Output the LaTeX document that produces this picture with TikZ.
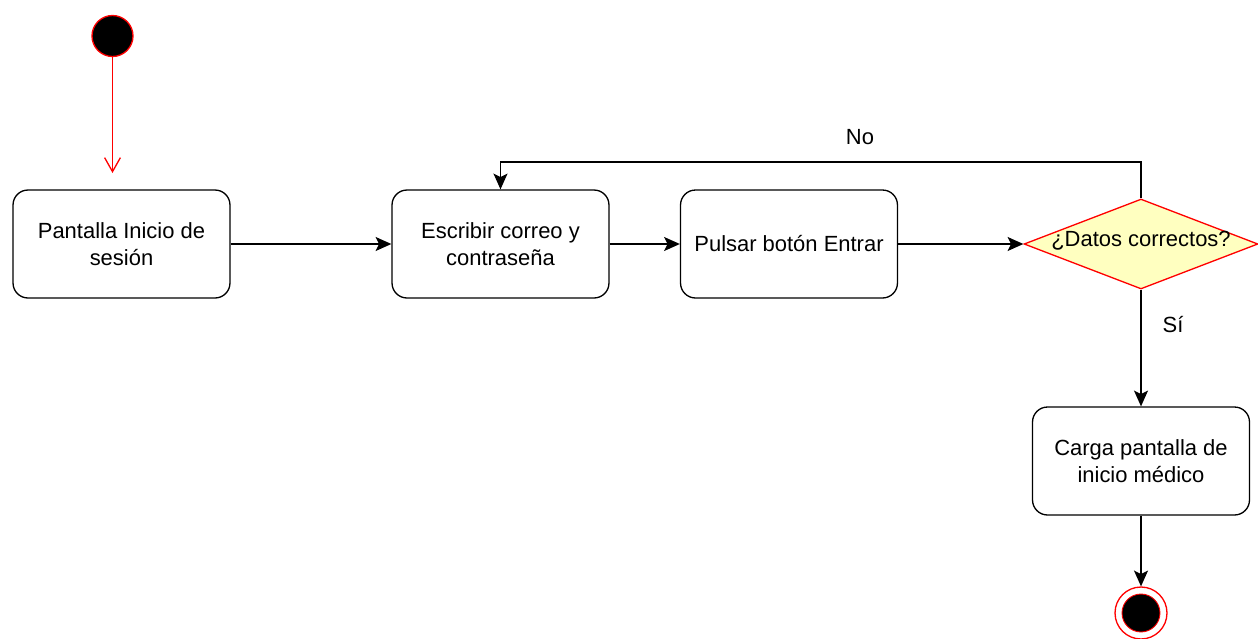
\documentclass[tikz,border=0pt]{standalone}
\usepackage{fontspec}
\setmainfont{Liberation Sans}
\usepackage{tikz}
\usepackage{xcolor}
\usetikzlibrary{arrows.meta, positioning, shapes.geometric}
\definecolor{decfill}{RGB}{255,255,192}

\begin{document}
\begin{tikzpicture}[
    x=0.02cm, y=-0.02cm,
    act/.style={rectangle, draw, rounded corners=0.3cm, line width=0.75pt,
                minimum width=4.34cm, minimum height=2.16cm, align=center,
                font=\fontsize{12.5}{15.3}\selectfont},
    dec/.style={diamond, draw=red, fill=decfill, line width=0.75pt,
                inner sep=0pt, minimum width=4.68cm, minimum height=1.8cm},
    lbl/.style={font=\fontsize{12.5}{15.3}\selectfont},
    arr/.style={-{Stealth[length=9pt, width=8pt, inset=2pt]}, line width=0.75pt},
    startarr/.style={-{Straight Barb[length=8pt, width=9pt]}, line width=0.75pt, red}
]
\useasboundingbox (0,0) rectangle (1258,639);
% inicio
\node[circle, draw=red, fill=black, line width=0.75pt, inner sep=0pt,
      minimum size=0.82cm] (start) at (112.5,36) {};
\coordinate (startEnd) at (112.5,173);
\draw[startarr] (start) -- (startEnd);
% actividades
\node[act] (login) at (121.5,244) {Pantalla Inicio de\\sesión};
\node[act] (write) at (500.5,244) {Escribir correo y\\contraseña};
\node[act] (press) at (789,244) {Pulsar botón Entrar};
\node[dec] (check) at (1141,244) {};
\node[lbl] (checkText) at (1141,241) {¿Datos correctos?};
\node[act] (load) at (1141,461) {Carga pantalla de\\inicio médico};
% final
\node[circle, draw=red, fill=white, line width=0.75pt, inner sep=0pt,
      minimum size=1.04cm] (stop) at (1141,613) {};
\node[circle, draw=red, fill=black, line width=0.5pt, inner sep=0pt,
      minimum size=0.76cm] (stopIn) at (stop) {};
% flujos
\draw[arr] (login) -- (write);
\draw[arr] (write) -- (press);
\draw[arr] (press) -- (check);
\coordinate (noCorner) at (1141,162);
\draw[arr] (check) -- (noCorner) -| (write);
\draw[arr] (check) -- (load);
\draw[arr] (load) -- (stop);
% etiquetas
\node[lbl] (noLbl) at (860,137) {No};
\node[lbl] (siLbl) at (1173,325) {Sí};
\end{tikzpicture}
\end{document}
